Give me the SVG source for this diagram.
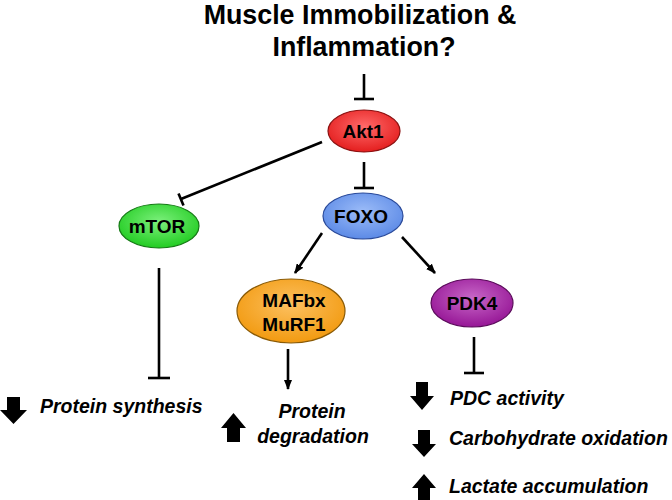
<svg xmlns="http://www.w3.org/2000/svg" width="672" height="500" viewBox="0 0 672 500">
<defs>
<radialGradient id="gRed" cx="50%" cy="40%" r="60%"><stop offset="0" stop-color="#ff6a6a"/><stop offset="1" stop-color="#e41e1e"/></radialGradient>
<radialGradient id="gBlue" cx="50%" cy="40%" r="60%"><stop offset="0" stop-color="#9cbcf8"/><stop offset="1" stop-color="#5c8ae6"/></radialGradient>
<radialGradient id="gGreen" cx="50%" cy="40%" r="60%"><stop offset="0" stop-color="#7cf07c"/><stop offset="1" stop-color="#22cc22"/></radialGradient>
<radialGradient id="gOrange" cx="50%" cy="40%" r="60%"><stop offset="0" stop-color="#fcc060"/><stop offset="1" stop-color="#f29a10"/></radialGradient>
<radialGradient id="gPurple" cx="50%" cy="40%" r="60%"><stop offset="0" stop-color="#c868c8"/><stop offset="1" stop-color="#961696"/></radialGradient>
<marker id="ah" markerWidth="10" markerHeight="8" refX="9" refY="4" orient="auto" markerUnits="userSpaceOnUse"><path d="M0,0 L10,4 L0,8 Z" fill="#000"/></marker>
<style>
.node{stroke-width:1.2}
.lbl{font-family:"Liberation Sans",Arial,sans-serif;font-weight:bold;font-size:19px;fill:#000;text-anchor:middle}
.out{font-family:"Liberation Sans",Arial,sans-serif;font-weight:bold;font-style:italic;font-size:19.5px;fill:#000}
.title{font-family:"Liberation Sans",Arial,sans-serif;font-weight:bold;font-size:26.8px;fill:#000;text-anchor:middle}
.ln{stroke:#000;stroke-width:2.6;fill:none}
.blk{fill:#000}
</style>
</defs>

<g id="title">
<text class="title" x="360" y="24">Muscle Immobilization &amp;</text>
<text class="title" x="364" y="56">Inflammation?</text>
</g>

<g id="connectors">
<line class="ln" x1="364" y1="74" x2="364" y2="99"/>
<line class="ln" x1="354" y1="99" x2="374" y2="99"/>
<line class="ln" x1="364" y1="162" x2="364" y2="188"/>
<line class="ln" x1="354" y1="188" x2="374" y2="188"/>
<line class="ln" x1="322" y1="142" x2="181" y2="199"/>
<line class="ln" x1="178.5" y1="193.5" x2="183.5" y2="205.5"/>
<line class="ln" x1="159" y1="268" x2="159" y2="378"/>
<line class="ln" x1="148" y1="378" x2="170" y2="378"/>
<line class="ln" x1="322" y1="233" x2="295" y2="273" marker-end="url(#ah)"/>
<line class="ln" x1="402" y1="237" x2="435" y2="273" marker-end="url(#ah)"/>
<line class="ln" x1="288" y1="349" x2="288" y2="389" marker-end="url(#ah)"/>
<line class="ln" x1="474" y1="337" x2="474" y2="373"/>
<line class="ln" x1="464" y1="373" x2="484" y2="373"/>
</g>

<g id="node-akt1">
<ellipse class="node" cx="364" cy="131" rx="36" ry="21" fill="url(#gRed)" stroke="#8a1010"/>
<text class="lbl" x="363" y="138">Akt1</text>
</g>
<g id="node-foxo">
<ellipse class="node" cx="363" cy="216" rx="40" ry="23" fill="url(#gBlue)" stroke="#2a4a9a"/>
<text class="lbl" x="361" y="223">FOXO</text>
</g>
<g id="node-mtor">
<ellipse class="node" cx="159" cy="226" rx="40" ry="22" fill="url(#gGreen)" stroke="#157a15"/>
<text class="lbl" x="157" y="233">mTOR</text>
</g>
<g id="node-mafbx">
<ellipse class="node" cx="291" cy="311" rx="54" ry="32" fill="url(#gOrange)" stroke="#8a5a05"/>
<text class="lbl" x="294" y="307">MAFbx</text>
<text class="lbl" x="294" y="331">MuRF1</text>
</g>
<g id="node-pdk4">
<ellipse class="node" cx="472" cy="303" rx="41" ry="24" fill="url(#gPurple)" stroke="#5a0a5a"/>
<text class="lbl" x="472" y="310">PDK4</text>
</g>

<g id="out-synthesis">
<path class="blk" d="M7,397 H20 V410 H27 L13.5,424 L0,410 H7 Z"/>
<text class="out" x="40" y="413">Protein synthesis</text>
</g>
<g id="out-degradation">
<path class="blk" d="M227,442 H240 V428 H246 L233.5,413 L221,428 H227 Z"/>
<text class="out" x="312" y="418" text-anchor="middle">Protein</text>
<text class="out" x="313" y="443" text-anchor="middle">degradation</text>
</g>
<g id="out-pdc">
<path class="blk" d="M416,382 H428 V396 H434 L422,410 L410,396 H416 Z"/>
<text class="out" x="450" y="405">PDC activity</text>
</g>
<g id="out-carb">
<path class="blk" d="M418,430 H430 V444 H436 L424,457 L412,444 H418 Z"/>
<text class="out" x="449" y="445">Carbohydrate oxidation</text>
</g>
<g id="out-lactate">
<path class="blk" d="M418,500 H430 V488 H436 L424,474 L412,488 H418 Z"/>
<text class="out" x="449" y="493">Lactate accumulation</text>
</g>
</svg>
